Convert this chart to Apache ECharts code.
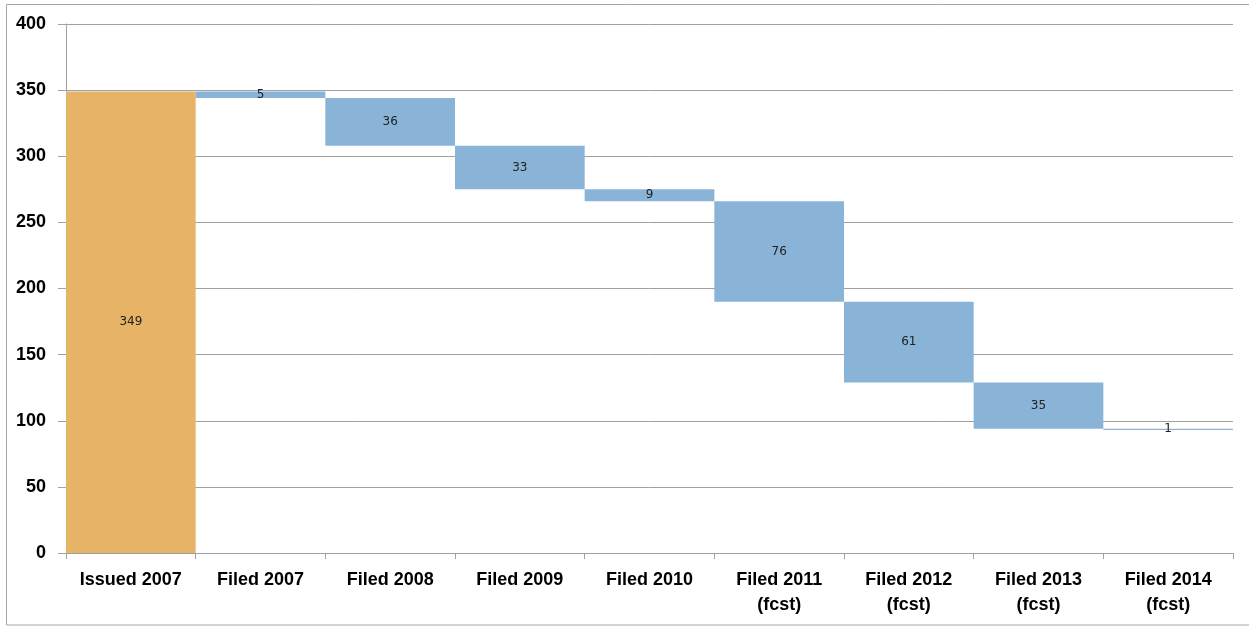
<!DOCTYPE html>
<html>
<head>
<meta charset="utf-8">
<script src="https://cdn.jsdelivr.net/npm/echarts@6/dist/echarts.min.js"></script>
<style>
  html, body { margin: 0; padding: 0; background: #fff; }
  #chart { width: 1249px; height: 627px; }
</style>
</head>
<body>
<div id="chart"></div>
<script>
var categories = ['Issued 2007', 'Filed 2007', 'Filed 2008', 'Filed 2009', 'Filed 2010',
  'Filed 2011\n(fcst)', 'Filed 2012\n(fcst)', 'Filed 2013\n(fcst)', 'Filed 2014\n(fcst)'];
var issued = 349;
var filed = [5, 36, 33, 9, 76, 61, 35, 1];
var yTicks = [0, 50, 100, 150, 200, 250, 300, 350, 400];

// waterfall: invisible base + visible step
var baseData = ['-'];
var stepData = [issued];
var level = issued;
filed.forEach(function (v) {
  level -= v;
  baseData.push(level);
  stepData.push(v);
});

var myChart = echarts.init(document.getElementById('chart'));
var option = {
  animation: false,
  textStyle: { fontFamily: 'Liberation Sans, Arial, sans-serif' },
  graphic: [{
    type: 'rect',
    shape: { x: 6.5, y: 4.5, width: 1260, height: 620.5 },
    style: { fill: null, stroke: '#a6a6a6', lineWidth: 1 },
    silent: true
  }],
  grid: { left: 66, right: 16, top: 24, bottom: 74 },
  xAxis: {
    type: 'category',
    data: categories,
    axisLine: { lineStyle: { color: '#a0a0a0' } },
    axisTick: { show: true, length: 6, alignWithLabel: false, lineStyle: { color: '#a0a0a0' } },
    axisLabel: { color: '#000', fontSize: 18, fontWeight: 'bold', margin: 15, lineHeight: 25, interval: 0 }
  },
  yAxis: {
    type: 'value',
    min: yTicks[0],
    max: yTicks[yTicks.length - 1],
    interval: 50,
    axisLine: { show: true, lineStyle: { color: '#a0a0a0' } },
    axisTick: { show: true, length: 8, lineStyle: { color: '#a0a0a0' } },
    axisLabel: { color: '#000', fontSize: 18, fontWeight: 'bold', margin: 20 },
    splitLine: { lineStyle: { color: '#a0a0a0', width: 1 } }
  },
  series: [
    {
      name: 'base',
      type: 'bar',
      stack: 'w',
      data: baseData,
      barCategoryGap: 0,
      itemStyle: { color: 'transparent' },
      silent: true
    },
    {
      name: 'step',
      type: 'bar',
      stack: 'w',
      barCategoryGap: 0,
      data: stepData.map(function (v, i) {
        return { value: v, itemStyle: { color: i === 0 ? '#e6b367' : '#89b3d7' } };
      }),
      label: {
        show: true,
        position: 'inside',
        color: '#222',
        fontSize: 12,
        fontFamily: 'DejaVu Sans, sans-serif'
      }
    }
  ]
};
myChart.setOption(option);
window.onresize = function () {
  myChart.resize();
};
</script>
</body>
</html>
